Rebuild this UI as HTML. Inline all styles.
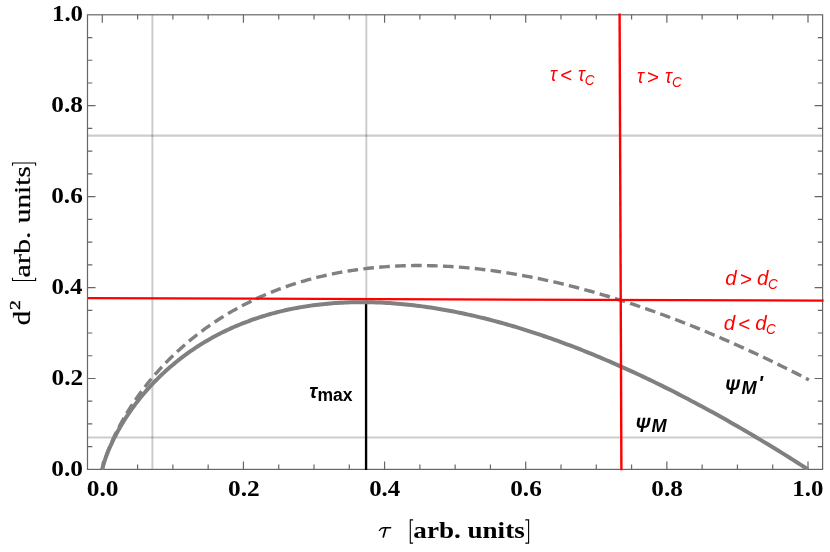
<!DOCTYPE html><html><head><meta charset="utf-8"><title>plot</title>
<style>html,body{margin:0;padding:0;background:#fff;}svg{display:block;will-change:transform;}text{font-family:"Liberation Sans",sans-serif;}.se{font-family:"Liberation Serif",serif;}</style></head><body>
<svg width="830" height="552" viewBox="0 0 830 552">
<rect width="830" height="552" fill="#fff"/>
<g stroke="#000" stroke-opacity="0.2" fill="none">
<line x1="152.4" y1="14.8" x2="152.4" y2="469.4" stroke-width="2"/>
<line x1="366.3" y1="14.8" x2="366.3" y2="469.4" stroke-width="2"/>
<line x1="87.5" y1="135.7" x2="822.6" y2="135.7" stroke-width="2.2"/>
<line x1="87.5" y1="437.5" x2="822.6" y2="437.5" stroke-width="2.2"/>
</g>
<g stroke="#666" stroke-width="1.2" fill="none">
<rect x="87.5" y="14.8" width="735.1" height="454.6"/>
<path d="M102.30 469.40v-8.00M102.30 14.80v8.00M137.59 469.40v-4.80M137.59 14.80v4.80M87.50 446.67h4.80M822.60 446.67h-4.80M172.87 469.40v-4.80M172.87 14.80v4.80M87.50 423.94h4.80M822.60 423.94h-4.80M208.16 469.40v-4.80M208.16 14.80v4.80M87.50 401.21h4.80M822.60 401.21h-4.80M243.44 469.40v-8.00M243.44 14.80v8.00M87.50 378.48h8.00M822.60 378.48h-8.00M278.73 469.40v-4.80M278.73 14.80v4.80M87.50 355.75h4.80M822.60 355.75h-4.80M314.01 469.40v-4.80M314.01 14.80v4.80M87.50 333.02h4.80M822.60 333.02h-4.80M349.30 469.40v-4.80M349.30 14.80v4.80M87.50 310.29h4.80M822.60 310.29h-4.80M384.58 469.40v-8.00M384.58 14.80v8.00M87.50 287.56h8.00M822.60 287.56h-8.00M419.87 469.40v-4.80M419.87 14.80v4.80M87.50 264.83h4.80M822.60 264.83h-4.80M455.15 469.40v-4.80M455.15 14.80v4.80M87.50 242.10h4.80M822.60 242.10h-4.80M490.44 469.40v-4.80M490.44 14.80v4.80M87.50 219.37h4.80M822.60 219.37h-4.80M525.72 469.40v-8.00M525.72 14.80v8.00M87.50 196.64h8.00M822.60 196.64h-8.00M561.00 469.40v-4.80M561.00 14.80v4.80M87.50 173.91h4.80M822.60 173.91h-4.80M596.29 469.40v-4.80M596.29 14.80v4.80M87.50 151.18h4.80M822.60 151.18h-4.80M631.58 469.40v-4.80M631.58 14.80v4.80M87.50 128.45h4.80M822.60 128.45h-4.80M666.86 469.40v-8.00M666.86 14.80v8.00M87.50 105.72h8.00M822.60 105.72h-8.00M702.15 469.40v-4.80M702.15 14.80v4.80M87.50 82.99h4.80M822.60 82.99h-4.80M737.43 469.40v-4.80M737.43 14.80v4.80M87.50 60.26h4.80M822.60 60.26h-4.80M772.72 469.40v-4.80M772.72 14.80v4.80M87.50 37.53h4.80M822.60 37.53h-4.80M808.00 469.40v-8.00M808.00 14.80v8.00"/>
</g>
<clipPath id="c"><rect x="87.5" y="14.8" width="735.1" height="455.3"/></clipPath>
<line x1="366.05" y1="302.5" x2="366.05" y2="470.0" stroke="#000" stroke-width="2.3"/>
<g clip-path="url(#c)" fill="none" stroke="#808080">
<path d="M102.30 469.40 L102.38 468.94 L102.53 468.17 L102.75 467.23 L103.01 466.17 L103.31 465.02 L103.65 463.79 L104.03 462.49 L104.44 461.14 L104.88 459.74 L105.36 458.30 L105.86 456.82 L106.39 455.30 L106.95 453.76 L107.54 452.19 L108.15 450.60 L108.78 448.98 L109.44 447.35 L110.13 445.70 L110.84 444.04 L111.57 442.36 L112.32 440.66 L113.09 438.96 L113.89 437.25 L114.70 435.53 L115.54 433.80 L116.40 432.06 L117.28 430.32 L118.17 428.57 L119.09 426.82 L120.03 425.07 L120.98 423.31 L121.95 421.55 L122.95 419.80 L123.96 418.03 L124.98 416.27 L126.03 414.51 L127.09 412.75 L128.17 411.00 L129.27 409.24 L130.39 407.49 L131.52 405.73 L132.67 403.99 L133.83 402.24 L135.02 400.50 L136.21 398.76 L137.43 397.03 L138.66 395.30 L139.90 393.58 L141.16 391.86 L142.44 390.15 L143.73 388.45 L145.04 386.75 L146.36 385.05 L147.70 383.37 L149.05 381.69 L150.42 380.02 L151.80 378.35 L153.20 376.70 L154.61 375.05 L156.04 373.41 L157.48 371.77 L158.93 370.15 L160.40 368.53 L161.88 366.93 L163.38 365.33 L164.89 363.74 L166.41 362.16 L167.95 360.59 L169.50 359.03 L171.07 357.48 L172.65 355.94 L174.24 354.41 L175.84 352.89 L177.46 351.38 L179.09 349.88 L180.74 348.39 L182.40 346.91 L184.07 345.44 L185.75 343.99 L187.45 342.54 L189.16 341.11 L190.88 339.68 L192.61 338.27 L194.36 336.87 L196.12 335.48 L197.89 334.10 L199.68 332.74 L201.47 331.39 L203.28 330.04 L205.10 328.71 L206.94 327.40 L208.78 326.09 L210.64 324.80 L212.51 323.52 L214.39 322.25 L216.29 320.99 L218.19 319.75 L220.11 318.52 L222.04 317.30 L223.98 316.10 L225.93 314.90 L227.90 313.72 L229.88 312.56 L231.86 311.40 L233.86 310.26 L235.87 309.14 L237.89 308.02 L239.93 306.92 L241.97 305.84 L244.03 304.76 L246.09 303.70 L248.17 302.66 L250.26 301.62 L252.36 300.60 L254.47 299.60 L256.60 298.61 L258.73 297.63 L260.88 296.67 L263.03 295.72 L265.20 294.78 L267.38 293.86 L269.56 292.95 L271.76 292.06 L273.97 291.18 L276.19 290.31 L278.42 289.46 L280.67 288.62 L282.92 287.80 L285.18 286.99 L287.46 286.20 L289.74 285.42 L292.03 284.65 L294.34 283.90 L296.65 283.16 L298.98 282.44 L301.32 281.74 L303.66 281.04 L306.02 280.37 L308.39 279.70 L310.76 279.06 L313.15 278.42 L315.55 277.80 L317.96 277.20 L320.38 276.61 L322.80 276.04 L325.24 275.48 L327.69 274.94 L330.15 274.41 L332.62 273.89 L335.09 273.39 L337.58 272.91 L340.08 272.44 L342.59 271.99 L345.11 271.55 L347.63 271.13 L350.17 270.72 L352.72 270.33 L355.27 269.95 L357.84 269.59 L360.42 269.24 L363.00 268.91 L365.60 268.60 L368.20 268.30 L370.82 268.01 L373.44 267.74 L376.08 267.49 L378.72 267.25 L381.38 267.03 L384.04 266.82 L386.71 266.63 L389.39 266.45 L392.08 266.29 L394.78 266.14 L397.49 266.01 L400.21 265.90 L402.94 265.80 L405.68 265.72 L408.42 265.65 L411.18 265.60 L413.95 265.57 L416.72 265.55 L419.51 265.54 L422.30 265.56 L425.10 265.58 L427.91 265.63 L430.73 265.69 L433.56 265.76 L436.40 265.85 L439.25 265.96 L442.11 266.08 L444.97 266.22 L447.85 266.38 L450.73 266.55 L453.62 266.74 L456.53 266.94 L459.44 267.16 L462.36 267.39 L465.29 267.65 L468.22 267.91 L471.17 268.20 L474.13 268.50 L477.09 268.81 L480.06 269.14 L483.05 269.49 L486.04 269.85 L489.04 270.23 L492.04 270.63 L495.06 271.04 L498.09 271.47 L501.12 271.92 L504.16 272.38 L507.21 272.85 L510.27 273.35 L513.34 273.86 L516.42 274.38 L519.51 274.92 L522.60 275.48 L525.71 276.06 L528.82 276.65 L531.94 277.26 L535.07 277.88 L538.20 278.52 L541.35 279.18 L544.50 279.85 L547.67 280.54 L550.84 281.24 L554.02 281.96 L557.21 282.70 L560.40 283.46 L563.61 284.23 L566.82 285.02 L570.04 285.82 L573.27 286.64 L576.51 287.48 L579.76 288.33 L583.01 289.20 L586.28 290.08 L589.55 290.99 L592.83 291.91 L596.11 292.84 L599.41 293.79 L602.72 294.76 L606.03 295.75 L609.35 296.75 L612.68 297.77 L616.02 298.80 L619.36 299.85 L622.71 300.92 L626.08 302.00 L629.45 303.10 L632.82 304.22 L636.21 305.35 L639.60 306.51 L643.00 307.67 L646.41 308.86 L649.83 310.06 L653.26 311.27 L656.69 312.51 L660.13 313.76 L663.59 315.02 L667.04 316.31 L670.51 317.61 L673.98 318.92 L677.46 320.26 L680.95 321.61 L684.45 322.97 L687.96 324.36 L691.47 325.76 L694.99 327.17 L698.52 328.61 L702.06 330.06 L705.60 331.52 L709.16 333.01 L712.72 334.51 L716.29 336.02 L719.86 337.56 L723.45 339.11 L727.04 340.67 L730.64 342.26 L734.24 343.86 L737.86 345.48 L741.48 347.11 L745.11 348.76 L748.75 350.43 L752.40 352.11 L756.05 353.81 L759.71 355.53 L763.38 357.27 L767.06 359.02 L770.74 360.78 L774.43 362.57 L778.13 364.37 L781.84 366.19 L785.55 368.02 L789.28 369.88 L793.01 371.75 L796.74 373.63 L800.49 375.53 L804.24 377.45 L808.00 379.39 L808.92 379.86" stroke-width="3.4" stroke-dasharray="10.65 5.3" stroke-dashoffset="2.40"/>
<path d="M102.30 469.40 L102.38 468.95 L102.53 468.20 L102.75 467.29 L103.01 466.26 L103.31 465.15 L103.65 463.96 L104.03 462.71 L104.44 461.41 L104.88 460.07 L105.36 458.69 L105.86 457.27 L106.39 455.82 L106.95 454.35 L107.54 452.86 L108.15 451.34 L108.78 449.81 L109.44 448.26 L110.13 446.70 L110.84 445.12 L111.57 443.54 L112.32 441.94 L113.09 440.34 L113.89 438.73 L114.70 437.11 L115.54 435.49 L116.40 433.86 L117.28 432.23 L118.17 430.60 L119.09 428.97 L120.03 427.33 L120.98 425.70 L121.95 424.06 L122.95 422.43 L123.96 420.80 L124.98 419.17 L126.03 417.54 L127.09 415.92 L128.17 414.30 L129.27 412.68 L130.39 411.07 L131.52 409.46 L132.67 407.86 L133.83 406.26 L135.02 404.67 L136.21 403.09 L137.43 401.51 L138.66 399.94 L139.90 398.38 L141.16 396.82 L142.44 395.27 L143.73 393.73 L145.04 392.20 L146.36 390.67 L147.70 389.16 L149.05 387.65 L150.42 386.15 L151.80 384.67 L153.20 383.19 L154.61 381.72 L156.04 380.26 L157.48 378.81 L158.93 377.37 L160.40 375.94 L161.88 374.53 L163.38 373.12 L164.89 371.72 L166.41 370.34 L167.95 368.97 L169.50 367.60 L171.07 366.25 L172.65 364.91 L174.24 363.59 L175.84 362.27 L177.46 360.97 L179.09 359.67 L180.74 358.39 L182.40 357.13 L184.07 355.87 L185.75 354.63 L187.45 353.40 L189.16 352.19 L190.88 350.98 L192.61 349.79 L194.36 348.61 L196.12 347.45 L197.89 346.30 L199.68 345.16 L201.47 344.04 L203.28 342.92 L205.10 341.83 L206.94 340.74 L208.78 339.67 L210.64 338.62 L212.51 337.57 L214.39 336.55 L216.29 335.53 L218.19 334.53 L220.11 333.55 L222.04 332.57 L223.98 331.62 L225.93 330.67 L227.90 329.74 L229.88 328.83 L231.86 327.93 L233.86 327.04 L235.87 326.17 L237.89 325.32 L239.93 324.48 L241.97 323.65 L244.03 322.84 L246.09 322.04 L248.17 321.26 L250.26 320.50 L252.36 319.74 L254.47 319.01 L256.60 318.29 L258.73 317.58 L260.88 316.89 L263.03 316.22 L265.20 315.56 L267.38 314.91 L269.56 314.28 L271.76 313.67 L273.97 313.07 L276.19 312.49 L278.42 311.92 L280.67 311.37 L282.92 310.84 L285.18 310.32 L287.46 309.81 L289.74 309.32 L292.03 308.85 L294.34 308.39 L296.65 307.95 L298.98 307.53 L301.32 307.12 L303.66 306.73 L306.02 306.35 L308.39 305.99 L310.76 305.64 L313.15 305.32 L315.55 305.00 L317.96 304.71 L320.38 304.43 L322.80 304.16 L325.24 303.92 L327.69 303.68 L330.15 303.47 L332.62 303.27 L335.09 303.09 L337.58 302.92 L340.08 302.77 L342.59 302.64 L345.11 302.52 L347.63 302.42 L350.17 302.34 L352.72 302.27 L355.27 302.22 L357.84 302.18 L360.42 302.16 L363.00 302.16 L365.60 302.18 L368.20 302.21 L370.82 302.26 L373.44 302.32 L376.08 302.41 L378.72 302.51 L381.38 302.62 L384.04 302.75 L386.71 302.90 L389.39 303.07 L392.08 303.25 L394.78 303.45 L397.49 303.67 L400.21 303.90 L402.94 304.15 L405.68 304.42 L408.42 304.70 L411.18 305.00 L413.95 305.32 L416.72 305.65 L419.51 306.00 L422.30 306.37 L425.10 306.76 L427.91 307.16 L430.73 307.58 L433.56 308.01 L436.40 308.47 L439.25 308.94 L442.11 309.43 L444.97 309.93 L447.85 310.45 L450.73 310.99 L453.62 311.55 L456.53 312.12 L459.44 312.71 L462.36 313.32 L465.29 313.94 L468.22 314.59 L471.17 315.25 L474.13 315.92 L477.09 316.62 L480.06 317.33 L483.05 318.05 L486.04 318.80 L489.04 319.56 L492.04 320.34 L495.06 321.14 L498.09 321.95 L501.12 322.78 L504.16 323.63 L507.21 324.50 L510.27 325.38 L513.34 326.28 L516.42 327.20 L519.51 328.14 L522.60 329.09 L525.71 330.06 L528.82 331.05 L531.94 332.06 L535.07 333.08 L538.20 334.12 L541.35 335.18 L544.50 336.25 L547.67 337.34 L550.84 338.45 L554.02 339.58 L557.21 340.73 L560.40 341.89 L563.61 343.07 L566.82 344.26 L570.04 345.48 L573.27 346.71 L576.51 347.96 L579.76 349.23 L583.01 350.51 L586.28 351.81 L589.55 353.13 L592.83 354.47 L596.11 355.83 L599.41 357.20 L602.72 358.59 L606.03 360.00 L609.35 361.42 L612.68 362.86 L616.02 364.32 L619.36 365.80 L622.71 367.30 L626.08 368.81 L629.45 370.34 L632.82 371.89 L636.21 373.45 L639.60 375.04 L643.00 376.64 L646.41 378.26 L649.83 379.89 L653.26 381.55 L656.69 383.22 L660.13 384.91 L663.59 386.61 L667.04 388.34 L670.51 390.08 L673.98 391.84 L677.46 393.62 L680.95 395.41 L684.45 397.23 L687.96 399.06 L691.47 400.90 L694.99 402.77 L698.52 404.65 L702.06 406.55 L705.60 408.47 L709.16 410.41 L712.72 412.36 L716.29 414.34 L719.86 416.33 L723.45 418.33 L727.04 420.36 L730.64 422.40 L734.24 424.46 L737.86 426.54 L741.48 428.64 L745.11 430.75 L748.75 432.88 L752.40 435.03 L756.05 437.20 L759.71 439.38 L763.38 441.59 L767.06 443.81 L770.74 446.04 L774.43 448.30 L778.13 450.57 L781.84 452.86 L785.55 455.17 L789.28 457.50 L793.01 459.84 L796.74 462.21 L800.49 464.59 L804.24 466.98 L808.00 469.40" stroke-width="4" stroke-linejoin="round"/>
</g>
<g stroke="#ff0000" fill="none">
<line x1="88.0" y1="298.1" x2="823.6" y2="300.6" stroke-width="2.2"/>
<line x1="619.6" y1="13.4" x2="621.4" y2="470.2" stroke-width="2.4"/>
</g>
<g class="se" font-weight="bold" fill="#000">
<text transform="translate(86.81 496.00) scale(1.1300 1)" font-size="22.5" class="se">0.0</text>
<text transform="translate(51.31 476.00) scale(1.1300 1)" font-size="22.5" class="se">0.0</text>
<text transform="translate(228.02 496.00) scale(1.1300 1)" font-size="22.5" class="se">0.2</text>
<text transform="translate(51.45 385.00) scale(1.1300 1)" font-size="22.5" class="se">0.2</text>
<text transform="translate(369.16 496.00) scale(1.1050 1)" font-size="22.5" class="se">0.4</text>
<text transform="translate(51.44 294.00) scale(1.1050 1)" font-size="22.5" class="se">0.4</text>
<text transform="translate(510.16 496.00) scale(1.1250 1)" font-size="22.5" class="se">0.6</text>
<text transform="translate(51.16 203.00) scale(1.1250 1)" font-size="22.5" class="se">0.6</text>
<text transform="translate(651.36 496.00) scale(1.1250 1)" font-size="22.5" class="se">0.8</text>
<text transform="translate(51.30 112.00) scale(1.1250 1)" font-size="22.5" class="se">0.8</text>
<text transform="translate(792.36 496.00) scale(1.1060 1)" font-size="22.5" class="se">1.0</text>
<text transform="translate(51.96 21.00) scale(1.1060 1)" font-size="22.5" class="se">1.0</text>
</g>
<g fill="none" stroke="#000" stroke-linecap="round">
<path d="M379.4 530.5C380.6 528.6 381.9 527.7 383.6 527.7L390.7 527.7" stroke-width="1.35"/>
<path d="M385.7 528.2L383.3 537.0" stroke-width="1.7"/>
</g>
<g fill="none" stroke="#000" stroke-width="1.1">
<path d="M413.1 519.9H410.3V543.1H413.1"/>
<path d="M525.3 519.9H528.6V543.1H525.3"/>
</g>
<text transform="translate(413.35 538.00) scale(1.1287 1)" font-size="24" class="se" font-weight="bold">arb. units</text>
<g transform="translate(30.4 325.5) rotate(-90)">
<text transform="translate(0.29 0.00) scale(1.1500 1)" font-size="25" class="se" stroke="#000" stroke-width="0.2">d</text>
<text transform="translate(15.62 -10.50) scale(1.3000 1)" font-size="15" class="se" stroke="#000" stroke-width="0.35">2</text>
<g fill="none" stroke="#000" stroke-width="1.1">
<path d="M47.8 -17.9H45V5.2H47.8"/>
<path d="M159.7 -17.9H162.5V5.2H159.7"/>
</g>
<text transform="translate(47.99 -0.10) scale(1.2590 1)" font-size="24" class="se" stroke="#000" stroke-width="0.2">arb.</text>
<text transform="translate(102.24 -0.10) scale(1.2230 1)" font-size="24" class="se" stroke="#000" stroke-width="0.2">units</text>
</g>
<g fill="#ff0000" font-style="italic">
<text transform="translate(550.12 81.00) scale(0.9000 1)" font-size="20.5">τ</text>
<text transform="translate(559.90 82.00)" font-size="20.5">&lt;</text>
<text transform="translate(578.03 81.00) scale(0.9000 1)" font-size="20.5">τ</text>
<text transform="translate(584.81 85.00) scale(0.9000 1)" font-size="15">C</text>
<text transform="translate(637.12 83.00) scale(0.9000 1)" font-size="20.5">τ</text>
<text transform="translate(646.85 84.00)" font-size="20.5">&gt;</text>
<text transform="translate(665.03 83.00) scale(0.9000 1)" font-size="20.5">τ</text>
<text transform="translate(672.01 87.00) scale(0.9000 1)" font-size="15">C</text>
<text transform="translate(725.20 285.00)" font-size="20.5">d</text>
<text transform="translate(739.80 286.00)" font-size="20.5">&gt;</text>
<text transform="translate(757.10 285.00)" font-size="20.5">d</text>
<text transform="translate(767.91 289.00) scale(0.9000 1)" font-size="15">C</text>
<text transform="translate(723.70 330.00)" font-size="20.5">d</text>
<text transform="translate(738.00 331.00)" font-size="20.5">&lt;</text>
<text transform="translate(755.20 330.00)" font-size="20.5">d</text>
<text transform="translate(765.91 334.00) scale(0.9000 1)" font-size="15">C</text>
</g>
<clipPath id="p1"><rect x="630" y="417.7" width="30" height="20"/></clipPath>
<clipPath id="p2"><rect x="720" y="379.6" width="30" height="20"/></clipPath>
<g fill="#000" font-weight="bold">
<text transform="translate(309.30 398.00)" font-size="19.5" font-style="italic">τ</text>
<text transform="translate(317.40 401.00)" font-size="17.5">max</text>
<g clip-path="url(#p1)">
<text transform="translate(635.70 428.00)" font-size="20" font-style="italic">ψ</text>
</g>
<text transform="translate(651.40 432.00) scale(0.9550 1)" font-size="19" font-style="italic">M</text>
<g clip-path="url(#p2)">
<text transform="translate(725.20 390.00)" font-size="20" font-style="italic">ψ</text>
</g>
<text transform="translate(741.40 394.00) scale(0.9550 1)" font-size="19" font-style="italic">M</text>
<text transform="translate(758.30 390.00)" font-size="20" font-style="italic">'</text>
</g>
</svg></body></html>
